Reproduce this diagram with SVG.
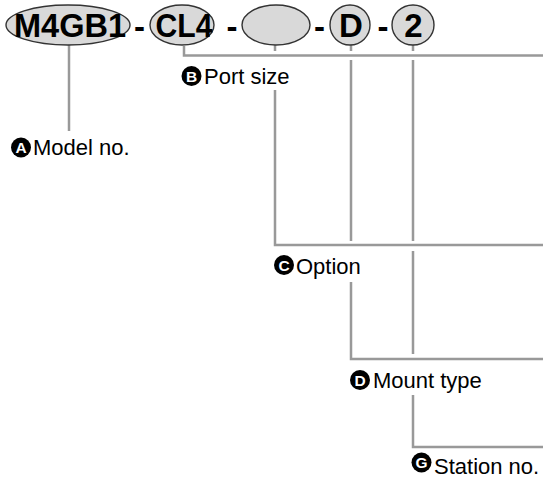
<svg xmlns="http://www.w3.org/2000/svg" width="543" height="479" viewBox="0 0 543 479">
<style>
.pill{fill:#d9d9d9;stroke:#333;stroke-width:1.4}
.code{font-family:"Liberation Sans",Arial,sans-serif;font-weight:bold;font-size:33px;fill:#000;text-anchor:middle}
.dash{font-family:"Liberation Sans",Arial,sans-serif;font-weight:bold;font-size:33px;fill:#000;text-anchor:middle}
.badge{fill:#000}
.bl{font-family:"Liberation Sans",Arial,sans-serif;font-weight:bold;font-size:15.5px;fill:#fff;text-anchor:middle}
.lbl{font-family:"Liberation Sans",Arial,sans-serif;font-size:22px;fill:#000}
.ln{stroke:#999;stroke-width:2.5;fill:none}
</style>
<rect width="543" height="479" fill="#fff"/>
<g id="connectors">
<path class="ln" d="M69 45V131"/>
<path class="ln" d="M184 46V55.5H543"/>
<path class="ln" d="M275 45V51M275 90V245H543"/>
<path class="ln" d="M351 45V51M351 60V241M351 282V359H543"/>
<path class="ln" d="M413 45V51M413 60V241M413 251V354M413 395V447H543"/>
</g>
<g id="seg-model">
<ellipse class="pill" cx="68" cy="25" rx="62" ry="20"/>
<text class="code" x="70" y="37" textLength="112" lengthAdjust="spacingAndGlyphs">M4GB1</text>
</g>
<text class="dash" x="139.5" y="38">-</text>
<g id="seg-port">
<ellipse class="pill" cx="182" cy="25" rx="32" ry="20"/>
<text class="code" x="184" y="37" textLength="57" lengthAdjust="spacingAndGlyphs">CL4</text>
</g>
<text class="dash" x="232" y="38">-</text>
<g id="seg-option">
<ellipse class="pill" cx="276" cy="25" rx="34" ry="20"/>
</g>
<text class="dash" x="319.5" y="38">-</text>
<g id="seg-mount">
<ellipse class="pill" cx="350" cy="25" rx="20" ry="20"/>
<text class="code" x="351" y="37">D</text>
</g>
<text class="dash" x="383" y="38">-</text>
<g id="seg-station">
<ellipse class="pill" cx="413" cy="25" rx="21" ry="20"/>
<text class="code" x="413.5" y="37">2</text>
</g>
<g id="label-A">
<circle class="badge" cx="21" cy="147.5" r="10"/>
<text class="bl" x="21" y="153">A</text>
<text class="lbl" x="33" y="155">Model no.</text>
</g>
<g id="label-B">
<circle class="badge" cx="191.5" cy="76" r="10"/>
<text class="bl" x="191.5" y="81.5">B</text>
<text class="lbl" x="204" y="83.5">Port size</text>
</g>
<g id="label-C">
<circle class="badge" cx="284" cy="265" r="10"/>
<text class="bl" x="284" y="270.5">C</text>
<text class="lbl" x="296" y="273.5">Option</text>
</g>
<g id="label-D">
<circle class="badge" cx="360" cy="380" r="10"/>
<text class="bl" x="360" y="385.5">D</text>
<text class="lbl" x="373" y="388">Mount type</text>
</g>
<g id="label-G">
<circle class="badge" cx="421.5" cy="462.5" r="10"/>
<text class="bl" x="421.5" y="468">G</text>
<text class="lbl" x="434" y="474">Station no.</text>
</g>
</svg>
